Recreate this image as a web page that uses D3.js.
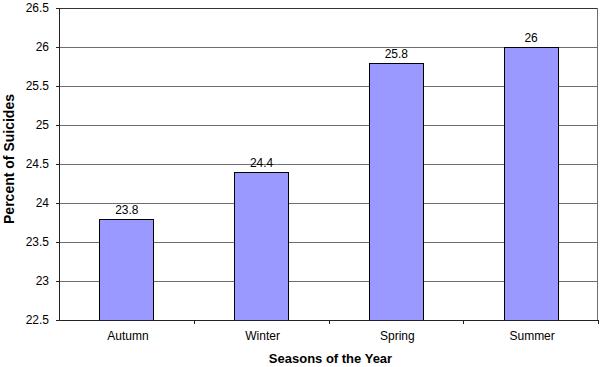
<!DOCTYPE html>
<html>
<head>
<meta charset="utf-8">
<script src="https://cdn.jsdelivr.net/npm/d3@7"></script>
<style>
  body { margin: 0; background: #fff; }
  text { font-family: "Liberation Sans", Arial, sans-serif; fill: #000; }
</style>
</head>
<body>
<svg width="600" height="367"></svg>
<script>
var seasons = ["Autumn", "Winter", "Spring", "Summer"];
var percents = [23.8, 24.4, 25.8, 26];
var yTicks = [22.5, 23, 23.5, 24, 24.5, 25, 25.5, 26, 26.5];

var margin = { top: 8, right: 2, bottom: 47, left: 59 };
var width = 600 - margin.left - margin.right;
var height = 367 - margin.top - margin.bottom;

var svg = d3.select("svg");
var g = svg.append("g")
    .attr("transform", "translate(" + margin.left + "," + margin.top + ")");

var x = d3.scaleBand()
    .domain(seasons)
    .range([0, width])
    .paddingInner(0.6)
    .paddingOuter(0.3);

var xBand = d3.scaleBand().domain(seasons).range([0, width]);

var y = d3.scaleLinear()
    .domain([22.5, 26.5])
    .range([height, 0]);

// gridlines
g.selectAll(".grid")
    .data(yTicks.slice(1))
    .enter()
    .append("line")
    .attr("x1", 0)
    .attr("x2", width)
    .attr("y1", function (d) { return Math.round(y(d)) + 0.5; })
    .attr("y2", function (d) { return Math.round(y(d)) + 0.5; })
    .attr("stroke", function (d) { return d === 26.5 ? "#333" : "#6e6e6e"; })
    .attr("stroke-width", 1);

// right border
g.append("line")
    .attr("x1", width - 0.5).attr("x2", width - 0.5)
    .attr("y1", 0).attr("y2", height)
    .attr("stroke", "#6e6e6e");

// bars
g.selectAll(".bar")
    .data(percents)
    .enter()
    .append("rect")
    .attr("x", function (d, i) { return Math.round(x(seasons[i])) + 0.5; })
    .attr("y", function (d) { return Math.round(y(d)) + 0.5; })
    .attr("width", Math.round(x.bandwidth()))
    .attr("height", function (d) { return Math.round(height - y(d)); })
    .attr("fill", "#9999FF")
    .attr("stroke", "#000")
    .attr("stroke-width", 1);

// value labels
g.selectAll(".val")
    .data(percents)
    .enter()
    .append("text")
    .attr("x", function (d, i) { return x(seasons[i]) + x.bandwidth() / 2 + 0.5; })
    .attr("y", function (d) { return y(d) - 5; })
    .attr("text-anchor", "middle")
    .attr("font-size", "12px")
    .text(function (d) { return d; });

// y axis
var yAxis = g.append("g")
    .call(d3.axisLeft(y).tickValues(yTicks).tickSize(3).tickPadding(7)
        .tickFormat(function (d) { return d; }));
yAxis.selectAll("text").attr("font-size", "12px").style("font-family", "'Liberation Sans', Arial, sans-serif");
yAxis.selectAll("line,path").attr("stroke", "#222");

// x axis
var xAxis = g.append("g")
    .attr("transform", "translate(0," + height + ")")
    .call(d3.axisBottom(xBand).tickSize(0).tickPadding(11));
xAxis.selectAll("text").attr("font-size", "12px").attr("dx", "1.5px")
    .style("font-family", "'Liberation Sans', Arial, sans-serif");
xAxis.select("path").attr("stroke", "#222");

// x tick marks at category boundaries
g.selectAll(".xtick")
    .data(seasons.slice(1).concat([null]))
    .enter()
    .append("line")
    .attr("x1", function (d, i) { return Math.round((i + 1) * xBand.bandwidth()) + 0.5; })
    .attr("x2", function (d, i) { return Math.round((i + 1) * xBand.bandwidth()) + 0.5; })
    .attr("y1", height)
    .attr("y2", height + 4)
    .attr("stroke", "#222");

// axis titles
svg.append("text")
    .attr("x", margin.left + width / 2 + 2)
    .attr("y", 363)
    .attr("text-anchor", "middle")
    .attr("font-size", "13px")
    .attr("font-weight", "bold")
    .text("Seasons of the Year");

svg.append("text")
    .attr("transform", "translate(14,159) rotate(-90)")
    .attr("text-anchor", "middle")
    .attr("font-size", "14px")
    .attr("font-weight", "bold")
    .text("Percent of Suicides");
</script>
</body>
</html>
